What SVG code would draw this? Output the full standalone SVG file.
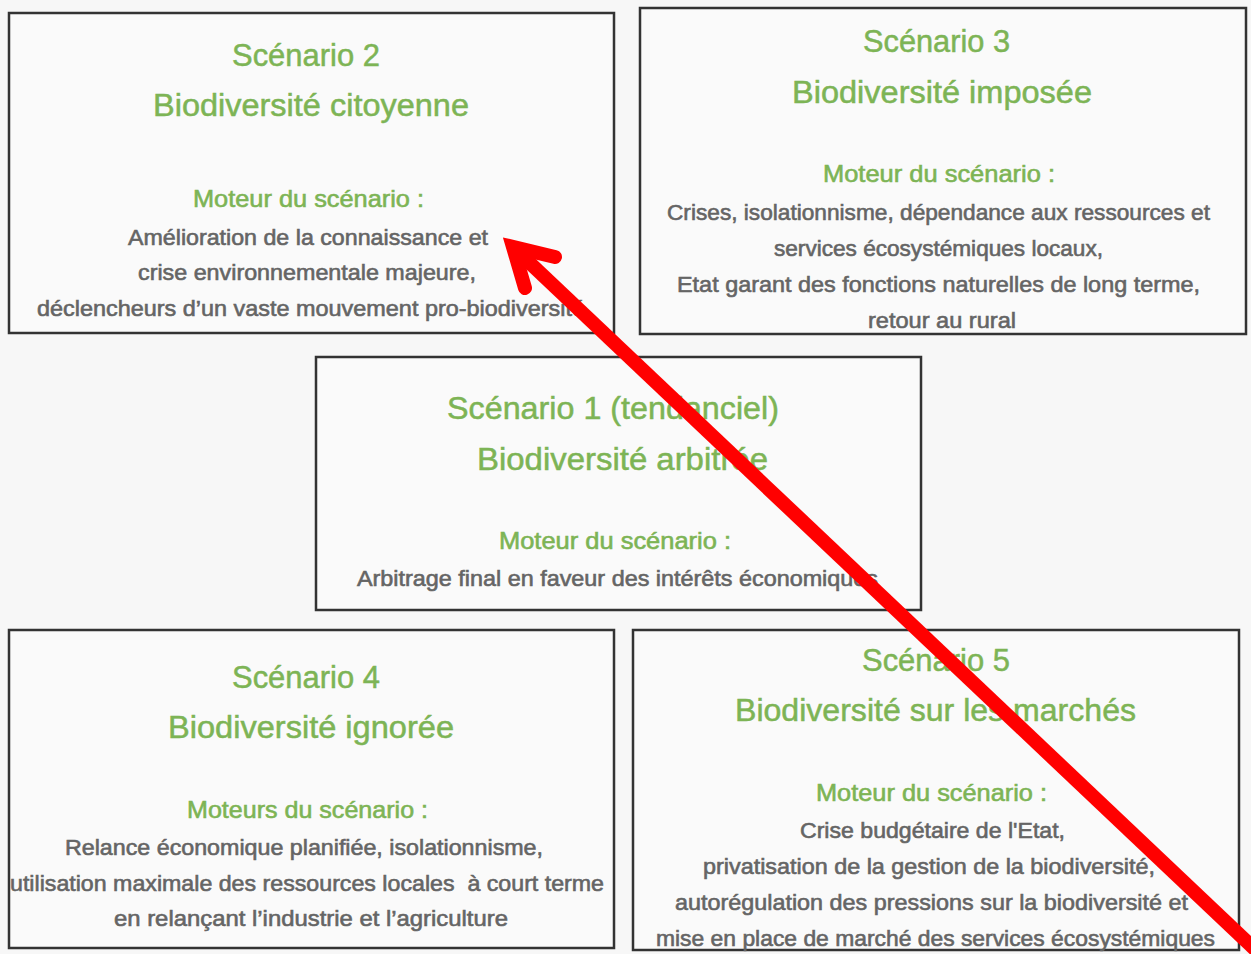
<svg xmlns="http://www.w3.org/2000/svg" width="1251" height="954" viewBox="0 0 1251 954">
<style>
.box{fill:#fafafa;stroke:#333;stroke-width:2.5}
text{font-family:"Liberation Sans","DejaVu Sans",sans-serif;text-anchor:middle}
.t{fill:#7db455;stroke:#7db455;stroke-width:0.5;font-size:31px}
.m{fill:#7db455;stroke:#7db455;stroke-width:0.6;font-size:24px}
.b{fill:#656565;stroke:#656565;stroke-width:0.6;font-size:22px}
.arr{fill:none;stroke:#ff0000;stroke-width:14}
</style>
<rect x="0" y="0" width="1251" height="954" fill="#f7f7f7"/>
<g id="scenario2">
<rect class="box" x="9" y="13" width="605" height="320"/>
<text class="t" x="306" y="66" textLength="148" lengthAdjust="spacingAndGlyphs">Scénario 2</text>
<text class="t" x="311" y="116" textLength="316" lengthAdjust="spacingAndGlyphs">Biodiversité citoyenne</text>
<text class="m" x="308.5" y="207" textLength="231" lengthAdjust="spacingAndGlyphs">Moteur du scénario :</text>
<text class="b" x="308" y="245" textLength="360" lengthAdjust="spacingAndGlyphs">Amélioration de la connaissance et</text>
<text class="b" x="307" y="280" textLength="338" lengthAdjust="spacingAndGlyphs">crise environnementale majeure,</text>
<text class="b" x="311" y="316" textLength="548" lengthAdjust="spacingAndGlyphs">déclencheurs d’un vaste mouvement pro-biodiversité</text>
</g>
<g id="scenario3">
<rect class="box" x="640" y="8" width="606" height="326"/>
<text class="t" x="936.5" y="52" textLength="147" lengthAdjust="spacingAndGlyphs">Scénario 3</text>
<text class="t" x="942" y="103" textLength="300" lengthAdjust="spacingAndGlyphs">Biodiversité imposée</text>
<text class="m" x="939" y="182" textLength="232" lengthAdjust="spacingAndGlyphs">Moteur du scénario :</text>
<text class="b" x="938.5" y="220" textLength="543" lengthAdjust="spacingAndGlyphs">Crises, isolationnisme, dépendance aux ressources et</text>
<text class="b" x="938.5" y="256" textLength="329" lengthAdjust="spacingAndGlyphs">services écosystémiques locaux,</text>
<text class="b" x="938.5" y="292" textLength="523" lengthAdjust="spacingAndGlyphs">Etat garant des fonctions naturelles de long terme,</text>
<text class="b" x="942" y="328" textLength="148" lengthAdjust="spacingAndGlyphs">retour au rural</text>
</g>
<g id="scenario1">
<rect class="box" x="316" y="357" width="605" height="253"/>
<text class="t" x="613" y="419" textLength="332" lengthAdjust="spacingAndGlyphs">Scénario 1 (tendanciel)</text>
<text class="t" x="622.5" y="470" textLength="291" lengthAdjust="spacingAndGlyphs">Biodiversité arbitrée</text>
<text class="m" x="615" y="549" textLength="232" lengthAdjust="spacingAndGlyphs">Moteur du scénario :</text>
<text class="b" x="617.5" y="586" textLength="521" lengthAdjust="spacingAndGlyphs">Arbitrage final en faveur des intérêts économiques</text>
</g>
<g id="scenario4">
<rect class="box" x="9" y="630" width="605" height="318"/>
<text class="t" x="306" y="688" textLength="148" lengthAdjust="spacingAndGlyphs">Scénario 4</text>
<text class="t" x="311" y="738" textLength="286" lengthAdjust="spacingAndGlyphs">Biodiversité ignorée</text>
<text class="m" x="307.5" y="818" textLength="241" lengthAdjust="spacingAndGlyphs">Moteurs du scénario :</text>
<text class="b" x="304" y="855" textLength="478" lengthAdjust="spacingAndGlyphs">Relance économique planifiée, isolationnisme,</text>
<text class="b" x="307" y="891" textLength="594" lengthAdjust="spacingAndGlyphs" xml:space="preserve">utilisation maximale des ressources locales  à court terme</text>
<text class="b" x="311" y="926" textLength="394" lengthAdjust="spacingAndGlyphs">en relançant l’industrie et l’agriculture</text>
</g>
<g id="scenario5">
<rect class="box" x="633" y="630" width="606" height="320"/>
<text class="t" x="936" y="671" textLength="148" lengthAdjust="spacingAndGlyphs">Scénario 5</text>
<text class="t" x="935.5" y="721" textLength="401" lengthAdjust="spacingAndGlyphs">Biodiversité sur les marchés</text>
<text class="m" x="931.5" y="801" textLength="231" lengthAdjust="spacingAndGlyphs">Moteur du scénario :</text>
<text class="b" x="932.5" y="838" textLength="265" lengthAdjust="spacingAndGlyphs">Crise budgétaire de l'Etat,</text>
<text class="b" x="929" y="874" textLength="452" lengthAdjust="spacingAndGlyphs">privatisation de la gestion de la biodiversité,</text>
<text class="b" x="931.5" y="910" textLength="513" lengthAdjust="spacingAndGlyphs">autorégulation des pressions sur la biodiversité et</text>
<text class="b" x="935.5" y="946" textLength="559" lengthAdjust="spacingAndGlyphs">mise en place de marché des services écosystémiques</text>
</g>
<g id="connectors">
<line class="arr" x1="1262" y1="956" x2="515" y2="249"/>
<path class="arr" d="M555,257 L513,247 L525,288" stroke-linecap="round" stroke-linejoin="miter"/>
</g>
</svg>
